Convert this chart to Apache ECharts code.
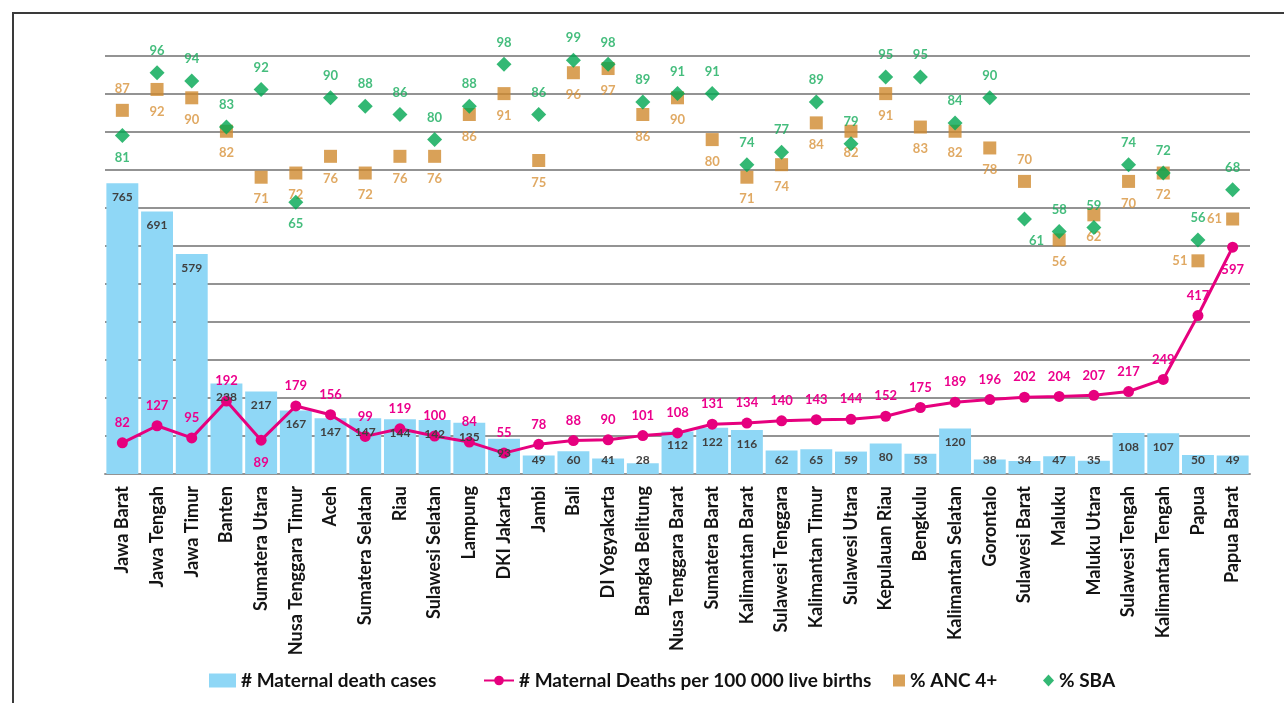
<!DOCTYPE html>
<html>
<head>
<meta charset="utf-8">
<script src="https://cdn.jsdelivr.net/npm/echarts@6/dist/echarts.min.js"></script>
<style>
html, body { margin: 0; padding: 0; background: #fff; }
#main { width: 1284px; height: 703px; }
</style>
</head>
<body>
<div id="main"></div>
<script>
// data
const provinces = ["Jawa Barat", "Jawa Tengah", "Jawa Timur", "Banten", "Sumatera Utara", "Nusa Tenggara Timur",
  "Aceh", "Sumatera Selatan", "Riau", "Sulawesi Selatan", "Lampung", "DKI Jakarta", "Jambi", "Bali",
  "DI Yogyakarta", "Bangka Belitung", "Nusa Tenggara Barat", "Sumatera Barat", "Kalimantan Barat",
  "Sulawesi Tenggara", "Kalimantan Timur", "Sulawesi Utara", "Kepulauan Riau", "Bengkulu",
  "Kalimantan Selatan", "Gorontalo", "Sulawesi Barat", "Maluku", "Maluku Utara", "Sulawesi Tengah",
  "Kalimantan Tengah", "Papua", "Papua Barat"];
const deathCases = [765, 691, 579, 238, 217, 167, 147, 147, 144, 142, 135, 93, 49, 60, 41, 28, 112, 122, 116,
  62, 65, 59, 80, 53, 120, 38, 34, 47, 35, 108, 107, 50, 49];
const mmr = [82, 127, 95, 192, 89, 179, 156, 99, 119, 100, 84, 55, 78, 88, 90, 101, 108, 131, 134,
  140, 143, 144, 152, 175, 189, 196, 202, 204, 207, 217, 249, 417, 597];
const anc = [87, 92, 90, 82, 71, 72, 76, 72, 76, 76, 86, 91, 75, 96, 97, 86, 90, 80, 71,
  74, 84, 82, 91, 83, 82, 78, 70, 56, 62, 70, 72, 51, 61];
const sba = [81, 96, 94, 83, 92, 65, 90, 88, 86, 80, 88, 98, 86, 99, 98, 89, 91, 91, 74,
  77, 89, 79, 95, 95, 84, 90, 61, 58, 59, 74, 72, 56, 68];

// where labels sit differently from the rest
const mmrBelow = ["Sumatera Utara", "Papua Barat"];
const ancAbove = ["Jawa Barat", "Sulawesi Barat"];
const ancLeft = ["Papua", "Papua Barat"];
const sbaBelow = ["Jawa Barat", "Nusa Tenggara Timur", "Sulawesi Barat"];

const FONT = "Lato";
const GRID_GRAY = "#939393";

var myChart = echarts.init(document.getElementById("main"));

const lblBase = { show: true, fontFamily: FONT, fontWeight: "bold", fontSize: 13 };

myChart.setOption({
  animation: false,
  grid: { left: 105, right: 34, top: 56, bottom: 229 },
  graphic: [{
    type: "rect",
    shape: { x: 13, y: 13, width: 1320, height: 740 },
    style: { fill: "none", stroke: "#3a3a3a", lineWidth: 2 }
  }],
  legend: [
    { data: ["# Maternal death cases"], left: 204, itemWidth: 27, itemHeight: 14, icon: "rect" },
    { data: ["# Maternal Deaths per 100 000 live births"], left: 478, itemWidth: 30, itemHeight: 12, itemGap: 2 },
    { data: ["% ANC 4+"], left: 888, itemWidth: 12, itemHeight: 12, icon: "rect" },
    { data: ["% SBA"], left: 1038, itemWidth: 11, itemHeight: 12, icon: "diamond" }
  ].map(l => Object.assign(l, {
    top: 666,
    textStyle: { fontFamily: FONT, fontWeight: "bold", fontSize: 19, color: "#111" }
  })),
  xAxis: {
    type: "category",
    data: provinces,
    axisTick: { show: false },
    axisLine: { lineStyle: { color: GRID_GRAY, width: 2 } },
    axisLabel: { interval: 0, rotate: 90, margin: 12, fontFamily: FONT, fontWeight: "bold", fontSize: 18, color: "#141414" }
  },
  yAxis: [
    {
      type: "value", min: 0, max: 1100, interval: 100,
      axisLabel: { show: false }, axisLine: { show: false }, axisTick: { show: false },
      splitLine: { lineStyle: { color: GRID_GRAY, width: 2 } }
    },
    {
      type: "value", min: 0, max: 100, show: false,
      splitLine: { show: false }
    }
  ],
  series: [
    {
      name: "# Maternal death cases",
      type: "bar",
      data: deathCases,
      barCategoryGap: "8%",
      barGap: "-100%",
      itemStyle: { color: "#8FD7F6" },
      z: 1
    },
    {
      // same bars, transparent, so that the numbers sit over the line
      type: "bar",
      data: deathCases.map(v => ({
        value: v,
        label: v < 80 ? { position: "insideBottom", distance: 8 } : { position: "insideTop", distance: 8 }
      })),
      barCategoryGap: "8%",
      barGap: "-100%",
      itemStyle: { color: "rgba(0,0,0,0)" },
      silent: true,
      z: 10,
      label: { show: true, fontFamily: FONT, fontWeight: "bold", fontSize: 12, color: "#404040" }
    },
    {
      name: "# Maternal Deaths per 100 000 live births",
      type: "line",
      data: mmr.map((v, i) => ({
        value: v,
        label: mmrBelow.includes(provinces[i]) ? { position: "bottom", distance: 11 } : {}
      })),
      symbol: "circle",
      symbolSize: 11,
      lineStyle: { color: "#E6007E", width: 3 },
      itemStyle: { color: "#E6007E" },
      label: Object.assign({}, lblBase, { position: "top", distance: 8, color: "#EC008C" }),
      z: 3
    },
    {
      name: "% ANC 4+",
      type: "scatter",
      yAxisIndex: 1,
      data: anc.map((v, i) => {
        let p = provinces[i];
        let pos = ancAbove.includes(p) ? "top" : ancLeft.includes(p) ? "left" : "bottom";
        return { value: v, label: { position: pos, distance: pos == "left" ? 4 : 9 } };
      }),
      symbol: "rect",
      symbolSize: 13,
      itemStyle: { color: "#D08A2E" },
      label: Object.assign({}, lblBase, { color: "#D8943C" }),
      z: 4
    },
    {
      name: "% SBA",
      type: "scatter",
      yAxisIndex: 1,
      data: sba.map((v, i) => {
        let p = provinces[i];
        let below = sbaBelow.includes(p);
        let lbl = { position: below ? "bottom" : "top", distance: 8 };
        if (p == "Sulawesi Barat") lbl.offset = [12, 0];
        return { value: v, label: lbl };
      }),
      symbol: "diamond",
      symbolSize: 15,
      itemStyle: { color: "#00A651" },
      label: Object.assign({}, lblBase, { color: "#17AD5C" }),
      z: 5
    }
  ]
});
</script>
</body>
</html>
